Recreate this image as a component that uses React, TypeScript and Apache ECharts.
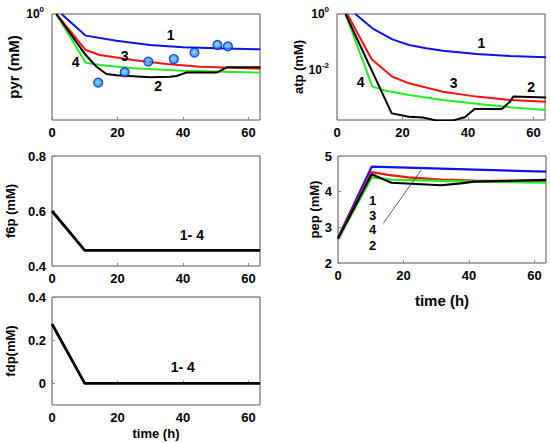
import React, { useEffect, useRef } from "react";
import * as echarts from "echarts";

// ---- data (time h, value) ----
const pyr1 = [[2.9, 1], [10.3, 0.625], [19.7, 0.56], [29.9, 0.51], [40, 0.485], [50.3, 0.474], [63.6, 0.464]];
const pyr3 = [[1.3, 1], [10.3, 0.457], [14.6, 0.41], [24.8, 0.368], [35, 0.337], [45.2, 0.318], [63.6, 0.305]];
const pyr4 = [[1.3, 1], [10.3, 0.347], [14.6, 0.33], [24.8, 0.307], [40, 0.292], [63.6, 0.28]];
const pyr2 = [[1.3, 1], [10.3, 0.41], [13.6, 0.318], [16.6, 0.272], [19.7, 0.264], [29.9, 0.253], [36, 0.256], [38, 0.26], [41, 0.28], [50.3, 0.28], [53.4, 0.314], [63.6, 0.314]];
const pyrExp = [[14.1, 0.225], [22.2, 0.282], [29.4, 0.355], [37.2, 0.376], [43.5, 0.432], [50.5, 0.51], [53.7, 0.495]];
const pyrLabels = [["1", 36.2, 0.634], ["3", 22.2, 0.4], ["4", 7.2, 0.355], ["2", 32.4, 0.21]];

const atp1 = [[5.6, 1], [10.8, 0.3076], [16.9, 0.1245], [22, 0.0782], [27.2, 0.0594], [32.3, 0.049], [42.6, 0.0372], [52.8, 0.0316], [64.1, 0.0283]];
const atp3 = [[3.1, 1], [10.6, 0.024], [16.9, 0.00575], [22, 0.00334], [32.3, 0.00168], [42.6, 0.00112], [52.8, 0.00085], [64.1, 0.000724]];
const atp4 = [[2.6, 1], [10.8, 0.00254], [14.9, 0.00182], [22, 0.00129], [32.3, 0.00085], [42.6, 0.000617], [52.8, 0.000468], [64.1, 0.000372]];
const atp2 = [[2.6, 1], [16.7, 0.000282], [22, 0.000214], [26.2, 0.0002], [30.3, 0.000158], [35.4, 0.000158], [39, 0.000204], [42, 0.000407], [50.3, 0.000407], [52.8, 0.000741], [53.8, 0.00112], [64.1, 0.00105]];
const atpLabels = [["1", 44.1, 0.089], ["3", 35.6, 0.00355], ["4", 7.2, 0.0038], ["2", 59.3, 0.0024]];

const f6p = [[0, 0.6], [10, 0.457], [63.5, 0.457]];
const f6pLabels = [["1- 4", 42.7, 0.511]];

const fdp = [[0, 0.275], [10, 0], [63.5, 0]];
const fdpLabels = [["1- 4", 39.9, 0.074]];

const pep1 = [[0, 2.71], [10.3, 4.7], [63.5, 4.56]];
const pep3 = [[0, 2.7], [10.3, 4.55], [15.3, 4.47], [21.4, 4.4], [31.5, 4.34], [41.5, 4.31], [63.5, 4.3]];
const pep4 = [[0, 2.66], [10.3, 4.4], [16, 4.34], [31.5, 4.3], [63.5, 4.25]];
const pep2 = [[0, 2.68], [10.3, 4.49], [16.3, 4.25], [31.5, 4.18], [37.5, 4.23], [41.5, 4.28], [63.5, 4.33]];
const pepLabels = [["1", 10.6, 3.74], ["3", 10.6, 3.34], ["4", 10.6, 2.94], ["2", 10.6, 2.48]];
const pepPointer = [[13.8, 3.11], [25.4, 4.61]];

const xTicks = [0, 20, 40, 60];

const BLUE = "#1010ee";
const RED = "#ff1010";
const GREEN = "#22ee22";
const BLACK = "#000000";
const FONT = "'Liberation Sans', Arial, sans-serif";

export default function App() {
  const ref = useRef<HTMLDivElement>(null);
  useEffect(() => {
    if (!ref.current) return;
    const chart = echarts.init(ref.current, undefined, { renderer: "svg" });

    const grids = [
      { left: 52, top: 14, width: 208, height: 106 }, // pyr
      { left: 337, top: 14, width: 208, height: 106 }, // atp
      { left: 52, top: 156, width: 208, height: 110 }, // f6p
      { left: 338, top: 156, width: 208, height: 107 }, // pep
      { left: 52, top: 297, width: 208, height: 108 }, // fdp
    ].map((g) => ({ ...g, show: true, borderColor: "#555", borderWidth: 1, backgroundColor: "transparent" }));

    const tickLabel = { fontFamily: FONT, fontWeight: "bold", fontSize: 13, color: "#000" };

    const xAxis = grids.map((_, i) => ({
      type: "value",
      gridIndex: i,
      min: 0,
      max: 63.5,
      splitLine: { show: false },
      axisLine: { show: false },
      axisTick: { show: true, inside: true, length: 3, customValues: xTicks, lineStyle: { color: "#888" } },
      axisLabel: { ...tickLabel, margin: 6, customValues: xTicks },
      name: i === 4 || i === 3 ? "time (h)" : "",
      nameLocation: "middle",
      nameGap: i === 3 ? 30 : 22,
      nameTextStyle: { fontFamily: FONT, fontWeight: "bold", fontSize: i === 3 ? 15 : 13, color: "#000", verticalAlign: "top" },
    }));

    const isPow = (v: number, p: number) => Math.abs(Math.log10(v) - p) < 1e-6;
    const rich = {
      b: { fontFamily: FONT, fontWeight: "bold", fontSize: 12, color: "#000" },
      s: { fontFamily: FONT, fontWeight: "bold", fontSize: 8, color: "#000", padding: [0, 0, 9, 0] },
    };
    const yName = (name: string, size: number, gap: number) => ({
      name,
      nameLocation: "middle",
      nameGap: gap,
      nameRotate: 90,
      nameTextStyle: { fontFamily: FONT, fontWeight: "bold", fontSize: size, color: "#000" },
    });
    const baseY = {
      splitLine: { show: false },
      axisLine: { show: false },
    };

    const yAxis = [
      {
        ...baseY,
        type: "log",
        gridIndex: 0,
        min: 0.1,
        max: 1,
        axisTick: { show: false },
        axisLabel: { margin: 8, formatter: (v: number) => (isPow(v, 0) ? "{b|10}{s|0}" : ""), rich },
        ...yName("pyr (mM)", 15, 31),
      },
      {
        ...baseY,
        type: "log",
        gridIndex: 1,
        min: 0.0001637,
        max: 1,
        axisTick: { show: false },
        axisLabel: {
          margin: 8,
          formatter: (v: number) => (isPow(v, 0) ? "{b|10}{s|0}" : isPow(v, -2) ? "{b|10}{s|-2}" : ""),
          rich,
        },
        ...yName("atp (mM)", 13, 31),
      },
      {
        ...baseY,
        type: "value",
        gridIndex: 2,
        min: 0.4,
        max: 0.8,
        interval: 0.2,
        axisTick: { show: true, inside: true, length: 3, lineStyle: { color: "#888" } },
        axisLabel: { ...tickLabel, margin: 6, formatter: (v: number) => v.toFixed(1) },
        ...yName("f6p (mM)", 13, 35),
      },
      {
        ...baseY,
        type: "value",
        gridIndex: 3,
        min: 2,
        max: 5,
        interval: 1,
        axisTick: { show: true, inside: true, length: 3, lineStyle: { color: "#888" } },
        axisLabel: { ...tickLabel, margin: 6 },
        ...yName("pep (mM)", 13, 17),
      },
      {
        ...baseY,
        type: "value",
        gridIndex: 4,
        min: -0.1,
        max: 0.4,
        axisTick: { show: true, inside: true, length: 3, customValues: [0, 0.2, 0.4], lineStyle: { color: "#888" } },
        axisLabel: { ...tickLabel, margin: 6, customValues: [0, 0.2, 0.4], formatter: (v: number) => (v === 0 ? "0" : v.toFixed(1)) },
        ...yName("fdp(mM)", 13, 35),
      },
    ];

    const line = (gi: number, data: number[][], color: string, width = 2) => ({
      type: "line",
      xAxisIndex: gi,
      yAxisIndex: gi,
      data,
      showSymbol: false,
      symbol: "none",
      clip: true,
      lineStyle: { color, width },
      z: 3,
    });
    const labels = (gi: number, items: (string | number)[][], size = 14) => ({
      type: "custom",
      xAxisIndex: gi,
      yAxisIndex: gi,
      data: items.map((it) => [it[1], it[2]]),
      renderItem: (params: any, api: any) => {
        const p = api.coord([api.value(0), api.value(1)]);
        return {
          type: "text",
          x: p[0],
          y: p[1],
          style: {
            text: String(items[params.dataIndex][0]),
            fill: "#000",
            font: `bold ${size}px ${FONT}`,
            align: "center",
            verticalAlign: "middle",
          },
        };
      },
      clip: false,
      z: 5,
      silent: true,
    });

    const series = [
      line(0, pyr1, BLUE),
      line(0, pyr3, RED),
      line(0, pyr4, GREEN),
      line(0, pyr2, BLACK),
      {
        type: "scatter",
        xAxisIndex: 0,
        yAxisIndex: 0,
        data: pyrExp,
        symbolSize: 9,
        itemStyle: {
          color: {
            type: "radial",
            x: 0.45,
            y: 0.45,
            r: 0.6,
            colorStops: [
              { offset: 0, color: "#5fd8ff" },
              { offset: 1, color: "#1060f0" },
            ],
          },
          borderColor: "#0828b8",
          borderWidth: 1.2,
        },
        z: 4,
      },
      labels(0, pyrLabels),
      line(1, atp1, BLUE),
      line(1, atp3, RED),
      line(1, atp4, GREEN),
      line(1, atp2, BLACK),
      labels(1, atpLabels),
      line(2, f6p, BLACK, 2.8),
      labels(2, f6pLabels),
      line(3, pep1, BLUE, 2.2),
      line(3, pep3, RED, 2.2),
      line(3, pep4, GREEN, 2.2),
      line(3, pep2, BLACK, 2.2),
      line(3, pepPointer, "#333", 0.8),
      labels(3, pepLabels, 13),
      line(4, fdp, BLACK, 2.8),
      labels(4, fdpLabels),
    ];

    chart.setOption({
      animation: false,
      backgroundColor: "#fff",
      textStyle: { fontFamily: FONT },
      grid: grids,
      xAxis,
      yAxis,
      series,
    });
    return () => chart.dispose();
  }, []);
  return <div ref={ref} style={{ position: "fixed", left: 0, top: 0, width: 550, height: 443 }} />;
}
